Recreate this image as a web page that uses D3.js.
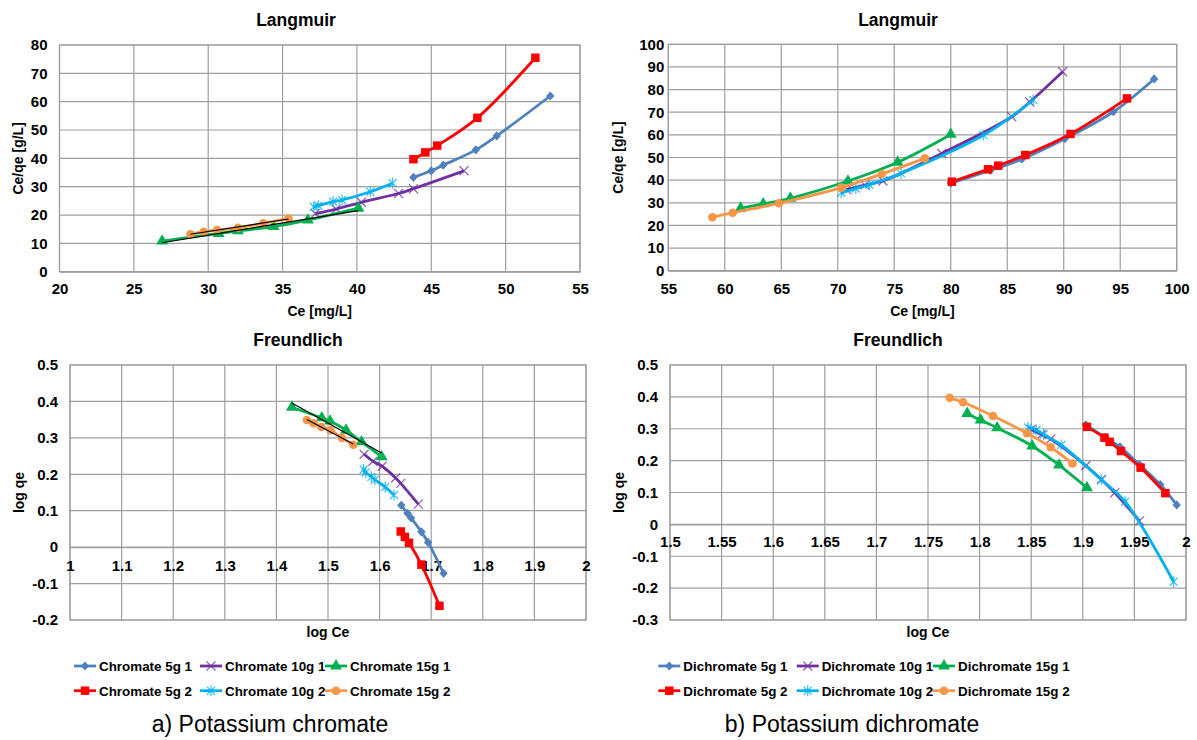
<!DOCTYPE html>
<html>
<head>
<meta charset="utf-8">
<script src="https://cdn.jsdelivr.net/npm/d3@7"></script>
<style>
  body { margin: 0; background: #fff; }
  text { font-family: "Liberation Sans", Arial, sans-serif; }
</style>
</head>
<body>
<svg id="fig" width="1197" height="740"></svg>
<script>
// series order: 5g 1, 10g 1, 15g 1, 5g 2, 10g 2, 15g 2
const seriesNames = ["5g 1", "10g 1", "15g 1", "5g 2", "10g 2", "15g 2"];
const seriesColors = ["#4f81bd", "#7030a0", "#00b050", "#ff0000", "#00b0f0", "#f79646"];
const seriesMarkers = ["diamond", "x", "triangle", "square", "asterisk", "circle"];

// a) chromate, Langmuir  [Ce, Ce/qe]
const chromLang5g1  = [[43.8,33.3],[45.0,35.6],[45.8,37.6],[48.0,43.0],[49.4,47.9],[53.0,62.0]];
const chromLang10g1 = [[37.2,20.5],[38.6,22.1],[40.3,24.5],[42.8,27.6],[43.8,29.3],[47.2,35.6]];
const chromLang15g1 = [[26.9,10.8],[30.7,13.5],[32.0,14.4],[34.4,15.9],[36.7,18.2],[40.1,22.4]];
const chromLang5g2  = [[43.8,39.7],[44.6,42.1],[45.4,44.5],[48.1,54.3],[52.0,75.5]];
const chromLang10g2 = [[37.1,22.9],[37.4,23.3],[38.4,24.7],[39.0,25.3],[40.9,28.2],[42.4,31.2]];
const chromLang15g2 = [[28.8,13.2],[29.7,14.1],[30.6,14.7],[32.0,15.5],[33.7,17.1],[35.4,18.8]];

// b) dichromate, Langmuir
const dichLang5g1  = [[80.0,38.7],[83.5,44.3],[86.3,49.3],[90.1,58.3],[94.4,70.2],[98.0,84.7]];
const dichLang10g1 = [[70.8,35.8],[72.4,37.8],[74.0,39.6],[79.2,51.8],[85.4,68.0],[87.0,74.5],[89.9,87.9]];
const dichLang15g1 = [[61.4,27.6],[63.4,29.5],[65.8,32.0],[70.9,39.6],[75.3,47.9],[80.0,60.2]];
const dichLang5g2  = [[80.1,39.3],[83.3,44.8],[84.2,46.4],[86.6,51.1],[90.6,60.4],[95.6,76.1]];
const dichLang10g2 = [[70.3,34.4],[71.6,36.3],[72.8,38.0],[75.6,43.0],[82.9,59.9],[87.3,75.4]];
const dichLang15g2 = [[58.9,23.6],[60.7,25.6],[64.8,29.8],[70.3,36.7],[73.9,42.7],[77.7,49.6]];

// a) chromate, Freundlich  [log Ce, log qe]
const chromFr5g1  = [[1.642,0.115],[1.654,0.093],[1.661,0.080],[1.681,0.042],[1.694,0.013],[1.724,-0.072]];
const chromFr10g1 = [[1.570,0.255],[1.587,0.236],[1.605,0.222],[1.631,0.190],[1.641,0.175],[1.675,0.118]];
const chromFr15g1 = [[1.430,0.384],[1.488,0.355],[1.504,0.346],[1.535,0.321],[1.565,0.289],[1.604,0.248]];
const chromFr5g2  = [[1.641,0.043],[1.649,0.028],[1.657,0.012],[1.681,-0.048],[1.716,-0.161]];
const chromFr10g2 = [[1.569,0.213],[1.573,0.205],[1.584,0.193],[1.591,0.185],[1.611,0.165],[1.628,0.143]];
const chromFr15g2 = [[1.459,0.349],[1.472,0.340],[1.487,0.330],[1.505,0.321],[1.527,0.300],[1.549,0.281]];

// b) dichromate, Freundlich
const dichFr5g1  = [[1.903,0.312],[1.922,0.272],[1.936,0.243],[1.955,0.187],[1.975,0.125],[1.991,0.061]];
const dichFr10g1 = [[1.850,0.298],[1.860,0.282],[1.869,0.268],[1.903,0.184],[1.918,0.141],[1.931,0.099],[1.955,0.011]];
const dichFr15g1 = [[1.788,0.348],[1.801,0.327],[1.817,0.303],[1.851,0.246],[1.877,0.186],[1.904,0.115]];
const dichFr5g2  = [[1.904,0.306],[1.921,0.272],[1.926,0.259],[1.937,0.230],[1.956,0.178],[1.980,0.098]];
const dichFr10g2 = [[1.847,0.304],[1.855,0.296],[1.862,0.282],[1.879,0.249],[1.918,0.140],[1.941,0.071],[1.988,-0.180]];
const dichFr15g2 = [[1.771,0.397],[1.784,0.383],[1.813,0.340],[1.846,0.286],[1.869,0.242],[1.890,0.191]];

// tick values
const chromLangXTicks = [20, 25, 30, 35, 40, 45, 50, 55];
const chromLangYTicks = [0, 10, 20, 30, 40, 50, 60, 70, 80];
const dichLangXTicks = [55, 60, 65, 70, 75, 80, 85, 90, 95, 100];
const dichLangYTicks = [0, 10, 20, 30, 40, 50, 60, 70, 80, 90, 100];
const chromFrXTicks = [1, 1.1, 1.2, 1.3, 1.4, 1.5, 1.6, 1.7, 1.8, 1.9, 2];
const chromFrYTicks = [-0.2, -0.1, 0, 0.1, 0.2, 0.3, 0.4, 0.5];
const dichFrXTicks = [1.5, 1.55, 1.6, 1.65, 1.7, 1.75, 1.8, 1.85, 1.9, 1.95, 2];
const dichFrYTicks = [-0.3, -0.2, -0.1, 0, 0.1, 0.2, 0.3, 0.4, 0.5];

const gridColor = "#9e9e9e";
const svg = d3.select("#fig");

const panels = [
  { box: [59.5, 45, 580, 271.7], xTicks: chromLangXTicks, yTicks: chromLangYTicks,
    series: [chromLang5g1, chromLang10g1, chromLang15g1, chromLang5g2, chromLang10g2, chromLang15g2],
    title: "Langmuir", titleX: 296, titleY: 26, xLabel: "Ce [mg/L]", xLabelY: 316,
    yLabel: "Ce/qe [g/L]", yLabelX: 18, yPad: 12, axisAt: 0, xTickOff: 22.5, trends: [2, 5] },
  { box: [668.3, 44.3, 1176.7, 270.7], xTicks: dichLangXTicks, yTicks: dichLangYTicks,
    series: [dichLang5g1, dichLang10g1, dichLang15g1, dichLang5g2, dichLang10g2, dichLang15g2],
    title: "Langmuir", titleX: 898, titleY: 26, xLabel: "Ce [mg/L]", xLabelY: 316,
    yLabel: "Ce/qe [g/L]", yLabelX: 618, yPad: 4, axisAt: 0, xTickOff: 23.5, trends: [] },
  { box: [70, 365, 586, 620], xTicks: chromFrXTicks, yTicks: chromFrYTicks,
    series: [chromFr5g1, chromFr10g1, chromFr15g1, chromFr5g2, chromFr10g2, chromFr15g2],
    title: "Freundlich", titleX: 298, titleY: 346, xLabel: "log Ce", xLabelY: 637,
    yLabel: "log qe", yLabelX: 19, yPad: 12, axisAt: 0, xTickOff: 24, trends: [2, 5] },
  { box: [670, 365, 1186, 620], xTicks: dichFrXTicks, yTicks: dichFrYTicks,
    series: [dichFr5g1, dichFr10g1, dichFr15g1, dichFr5g2, dichFr10g2, dichFr15g2],
    title: "Freundlich", titleX: 898, titleY: 346, xLabel: "log Ce", xLabelY: 637,
    yLabel: "log qe", yLabelX: 619, yPad: 12, axisAt: 0, xTickOff: 23, trends: [] }
];

function markerPath(type) {
  if (type === "diamond") return "M0,-4.6L4.2,0L0,4.6L-4.2,0Z";
  if (type === "x") return "M-4.5,-4.5L4.5,4.5M-4.5,4.5L4.5,-4.5";
  if (type === "asterisk") return "M-4,-4L4,4M-4,4L4,-4M0,-5.5L0,5.5";
  if (type === "square") return d3.symbol(d3.symbolSquare, 72)();
  if (type === "triangle") return d3.symbol(d3.symbolTriangle, 62)();
  return d3.symbol(d3.symbolCircle, 58)();
}
const strokeMarker = t => t === "x" || t === "asterisk";

function drawMarker(sel, i) {
  const t = seriesMarkers[i];
  sel.attr("d", markerPath(t))
    .attr("fill", strokeMarker(t) ? "none" : seriesColors[i])
    .attr("stroke", strokeMarker(t) ? seriesColors[i] : "none")
    .attr("stroke-width", 1.3)
    .attr("stroke-opacity", strokeMarker(t) ? 0.75 : 1);
}

// least squares trendline over a series' extent
function linearFit(pts) {
  const mx = d3.mean(pts, d => d[0]), my = d3.mean(pts, d => d[1]);
  const b = d3.sum(pts, d => (d[0] - mx) * (d[1] - my)) / d3.sum(pts, d => (d[0] - mx) ** 2);
  const a = my - b * mx;
  const [e0, e1] = d3.extent(pts, d => d[0]);
  return [[e0, a + b * e0], [e1, a + b * e1]];
}

function drawPanel(p) {
  const [x0, y0, x1, y1] = p.box;
  const x = d3.scaleLinear().domain(d3.extent(p.xTicks)).range([x0, x1]);
  const y = d3.scaleLinear().domain(d3.extent(p.yTicks)).range([y1, y0]);
  const g = svg.append("g");

  // grid
  g.append("g").selectAll("line").data(p.xTicks).join("line")
    .attr("x1", d => x(d)).attr("x2", d => x(d)).attr("y1", y0).attr("y2", y1)
    .attr("stroke", gridColor).attr("stroke-width", 1.2);
  g.append("g").selectAll("line").data(p.yTicks).join("line")
    .attr("x1", x0).attr("x2", x1).attr("y1", d => y(d)).attr("y2", d => y(d))
    .attr("stroke", gridColor).attr("stroke-width", 1.2);
  g.append("rect").attr("x", x0).attr("y", y0).attr("width", x1 - x0).attr("height", y1 - y0)
    .attr("fill", "none").attr("stroke", gridColor).attr("stroke-width", 1.2);

  // axes
  const ya = g.append("g").attr("transform", `translate(${x0},0)`)
    .call(d3.axisLeft(y).tickValues(p.yTicks).tickSize(0).tickPadding(p.yPad).tickFormat(d => String(d)));
  ya.select(".domain").remove();
  ya.attr("font-size", 15).attr("font-family", null).attr("font-weight", "bold");
  ya.selectAll("text").attr("fill", "#000");

  const xa = g.append("g").attr("transform", `translate(0,${y(p.axisAt)})`)
    .call(d3.axisBottom(x).tickValues(p.xTicks).tickSize(0).tickFormat(d => String(d)));
  xa.select(".domain").attr("stroke", gridColor).attr("stroke-width", 1.2);
  xa.attr("font-size", 15).attr("font-family", null).attr("font-weight", "bold");
  xa.selectAll("text").attr("fill", "#000").attr("dy", null).attr("y", p.xTickOff);

  // titles
  g.append("text").attr("x", p.titleX).attr("y", p.titleY).attr("text-anchor", "middle")
    .attr("font-size", 17.5).attr("font-weight", "bold").text(p.title);
  g.append("text").attr("x", (x0 + x1) / 2).attr("y", p.xLabelY).attr("text-anchor", "middle")
    .attr("font-size", 14).attr("font-weight", "bold").text(p.xLabel);
  g.append("text").attr("transform", `translate(${p.yLabelX + 5},${(y0 + y1) / 2}) rotate(-90)`)
    .attr("text-anchor", "middle").attr("font-size", 14).attr("font-weight", "bold").text(p.yLabel);

  // series
  const line = d3.line().x(d => x(d[0])).y(d => y(d[1])).curve(d3.curveCatmullRom);
  p.series.forEach((pts, i) => {
    const s = g.append("g");
    s.append("path").datum(pts).attr("d", line).attr("fill", "none")
      .attr("stroke", seriesColors[i]).attr("stroke-width", 2.8).attr("stroke-linejoin", "round");
    s.selectAll("path.mk").data(pts).join("path").attr("class", "mk")
      .attr("transform", d => `translate(${x(d[0])},${y(d[1])})`)
      .call(drawMarker, i);
  });

  // black linear trendlines
  p.trends.forEach(i => {
    g.append("path").datum(linearFit(p.series[i]))
      .attr("d", d3.line().x(d => x(d[0])).y(d => y(d[1])))
      .attr("stroke", "#000").attr("stroke-width", 1.1).attr("fill", "none");
  });
}
panels.forEach(drawPanel);

// legends
const legendRows = [666, 690.7];
const legends = [
  { prefix: "Chromate ", cols: [74, 200, 325] },
  { prefix: "Dichromate ", cols: [658.3, 796.7, 933] }
];
legends.forEach(lg => {
  seriesNames.forEach((name, i) => {
    const lx = lg.cols[i % 3], ly = legendRows[Math.floor(i / 3)];
    const it = svg.append("g");
    it.append("line").attr("x1", lx).attr("x2", lx + 22).attr("y1", ly).attr("y2", ly)
      .attr("stroke", seriesColors[i]).attr("stroke-width", 2.8);
    it.append("path").attr("transform", `translate(${lx + 11},${ly})`).call(drawMarker, i);
    it.append("text").attr("x", lx + 25).attr("y", ly + 5)
      .attr("font-size", 13.4).attr("font-weight", "bold").text(lg.prefix + name);
  });
});

// captions
svg.append("text").attr("x", 270).attr("y", 732).attr("text-anchor", "middle")
  .attr("font-size", 23).text("a) Potassium chromate");
svg.append("text").attr("x", 852).attr("y", 732).attr("text-anchor", "middle")
  .attr("font-size", 23).text("b) Potassium dichromate");
</script>
</body>
</html>
